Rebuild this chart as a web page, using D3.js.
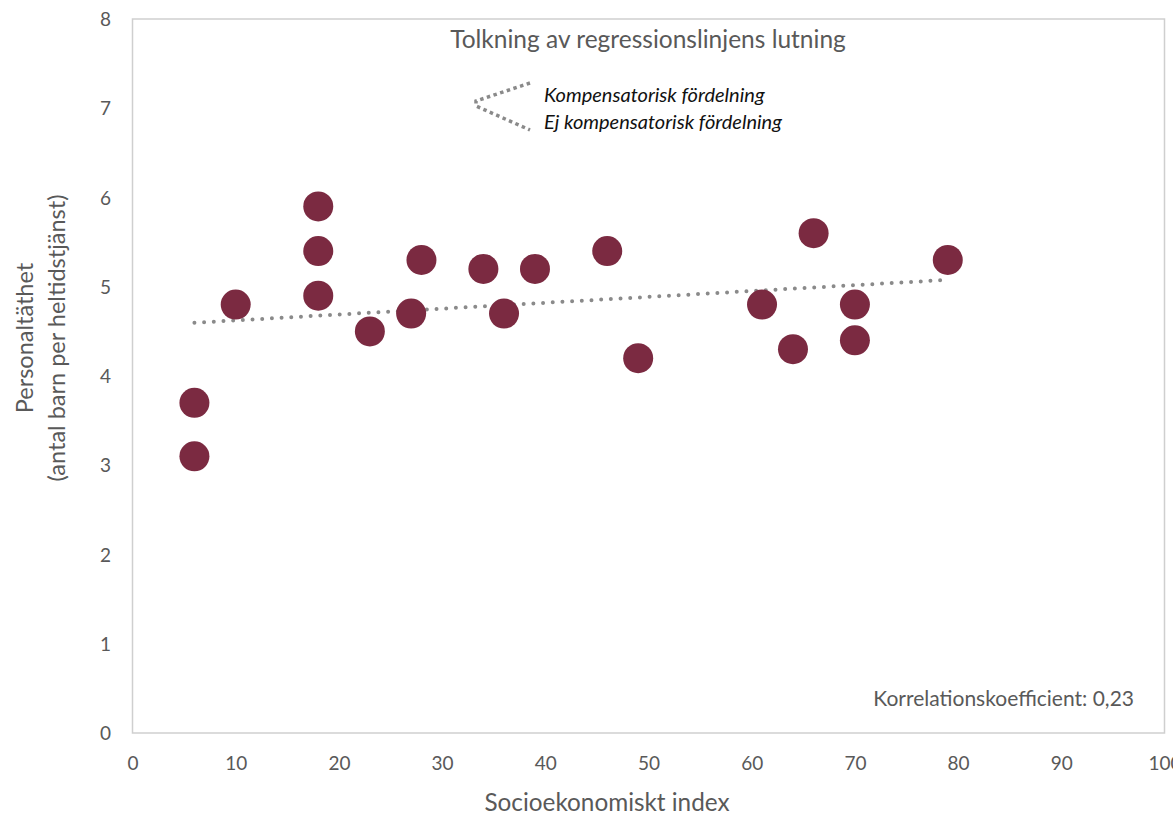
<!DOCTYPE html>
<html>
<head>
<meta charset="utf-8">
<script src="https://cdn.jsdelivr.net/npm/d3@7"></script>
<style>
  html, body { margin: 0; padding: 0; background: #fff; }
  svg { display: block; }
  text { font-family: Lato, "Open Sans", sans-serif; }
</style>
</head>
<body>
<svg id="chart" width="1173" height="815"></svg>
<script>
// ---- data ----
const xValues = [6, 6, 10, 18, 18, 18, 23, 27, 28, 34, 36, 39, 46, 49, 61, 64, 66, 70, 70, 79];
const yValues = [3.7, 3.1, 4.8, 5.9, 5.4, 4.9, 4.5, 4.7, 5.3, 5.2, 4.7, 5.2, 5.4, 4.2, 4.8, 4.3, 5.6, 4.8, 4.4, 5.3];
const xTicks = [0, 10, 20, 30, 40, 50, 60, 70, 80, 90, 100];
const yTicks = [0, 1, 2, 3, 4, 5, 6, 7, 8];
const titleText = "Tolkning av regressionslinjens lutning";
const legendLabels = ["Kompensatorisk fördelning", "Ej kompensatorisk fördelning"];
const xTitle = "Socioekonomiskt index";
const yTitleLines = ["Personaltäthet", "(antal barn per heltidstjänst)"];
const corrLabel = "Korrelationskoefficient: 0,23";

(function () {
const TXT = "#595959";
const svg = d3.select("#chart");
const mL = 132.5, mR = 1164.5, mT = 19, mB = 733;
const x = d3.scaleLinear().domain([0, 100]).range([mL, mR]);
const y = d3.scaleLinear().domain([0, 8]).range([mB, mT]);

// plot border
svg.append("rect")
  .attr("x", mL).attr("y", mT)
  .attr("width", mR - mL).attr("height", mB - mT)
  .attr("fill", "none").attr("stroke", "#cfcfcf").attr("stroke-width", 1.5);

// axes (labels only)
const xAxis = d3.axisBottom(x).tickValues(xTicks).tickSize(0).tickPadding(0);
const gx = svg.append("g").attr("transform", `translate(0,${mB})`).call(xAxis);
gx.select(".domain").remove();
gx.selectAll("text").attr("dy", null).attr("y", 37)
  .style("font-size", "19px").style("fill", TXT).style("font-family", "Lato, sans-serif");

const yAxis = d3.axisLeft(y).tickValues(yTicks).tickSize(0).tickPadding(0);
const gy = svg.append("g").call(yAxis);
gy.select(".domain").remove();
gy.selectAll("text").attr("x", 111).attr("dy", "0.35em").attr("text-anchor", "end")
  .style("font-size", "19px").style("fill", TXT).style("font-family", "Lato, sans-serif");

// axis titles
svg.append("text").attr("x", 607).attr("y", 811).attr("text-anchor", "middle")
  .style("font-size", "24.3px").style("fill", TXT).text(xTitle);

const yt = svg.append("text").attr("transform", "translate(33,338) rotate(-90)")
  .attr("text-anchor", "middle").style("font-size", "23.5px").style("fill", TXT);
yt.selectAll("tspan").data(yTitleLines).join("tspan")
  .attr("x", 0).attr("dy", (d, i) => i === 0 ? 0 : 32).text(d => d);

// regression line from data
const n = xValues.length;
const mx = d3.mean(xValues), my = d3.mean(yValues);
let sxy = 0, sxx = 0;
for (let i = 0; i < n; i++) { sxy += (xValues[i] - mx) * (yValues[i] - my); sxx += (xValues[i] - mx) ** 2; }
const slope = sxy / sxx, icpt = my - slope * mx;
const x0 = d3.min(xValues), x1 = d3.max(xValues);
svg.append("line")
  .attr("x1", x(x0)).attr("y1", y(icpt + slope * x0))
  .attr("x2", x(x1)).attr("y2", y(icpt + slope * x1))
  .attr("stroke", "#8a8a8a").attr("stroke-width", 4)
  .attr("stroke-linecap", "round").attr("stroke-dasharray", "0 9.7");

// points
svg.append("g").selectAll("circle").data(xValues).join("circle")
  .attr("cx", (d) => x(d)).attr("cy", (d, i) => y(yValues[i])).attr("r", 15)
  .attr("fill", "#7b2a41");

// title
svg.append("text").attr("x", 648).attr("y", 48).attr("text-anchor", "middle")
  .style("font-size", "24.5px").style("fill", TXT).text(titleText);

// legend lines (schematic)
svg.append("path")
  .attr("d", "M530,83 L476,101 L476,106 L530,130")
  .attr("fill", "none").attr("stroke", "#8a8a8a").attr("stroke-width", 3.5)
  .attr("stroke-dasharray", "3.5 3.5");
svg.selectAll("text.leg").data(legendLabels).join("text").attr("class", "leg")
  .attr("x", 544).attr("y", (d, i) => 102 + i * 27)
  .style("font-size", "20px").style("font-style", "italic").style("fill", "#111")
  .text(d => d);

// correlation
svg.append("text").attr("x", 1134).attr("y", 706).attr("text-anchor", "end")
  .style("font-size", "21px").style("fill", TXT).text(corrLabel);
})();
</script>
</body>
</html>
